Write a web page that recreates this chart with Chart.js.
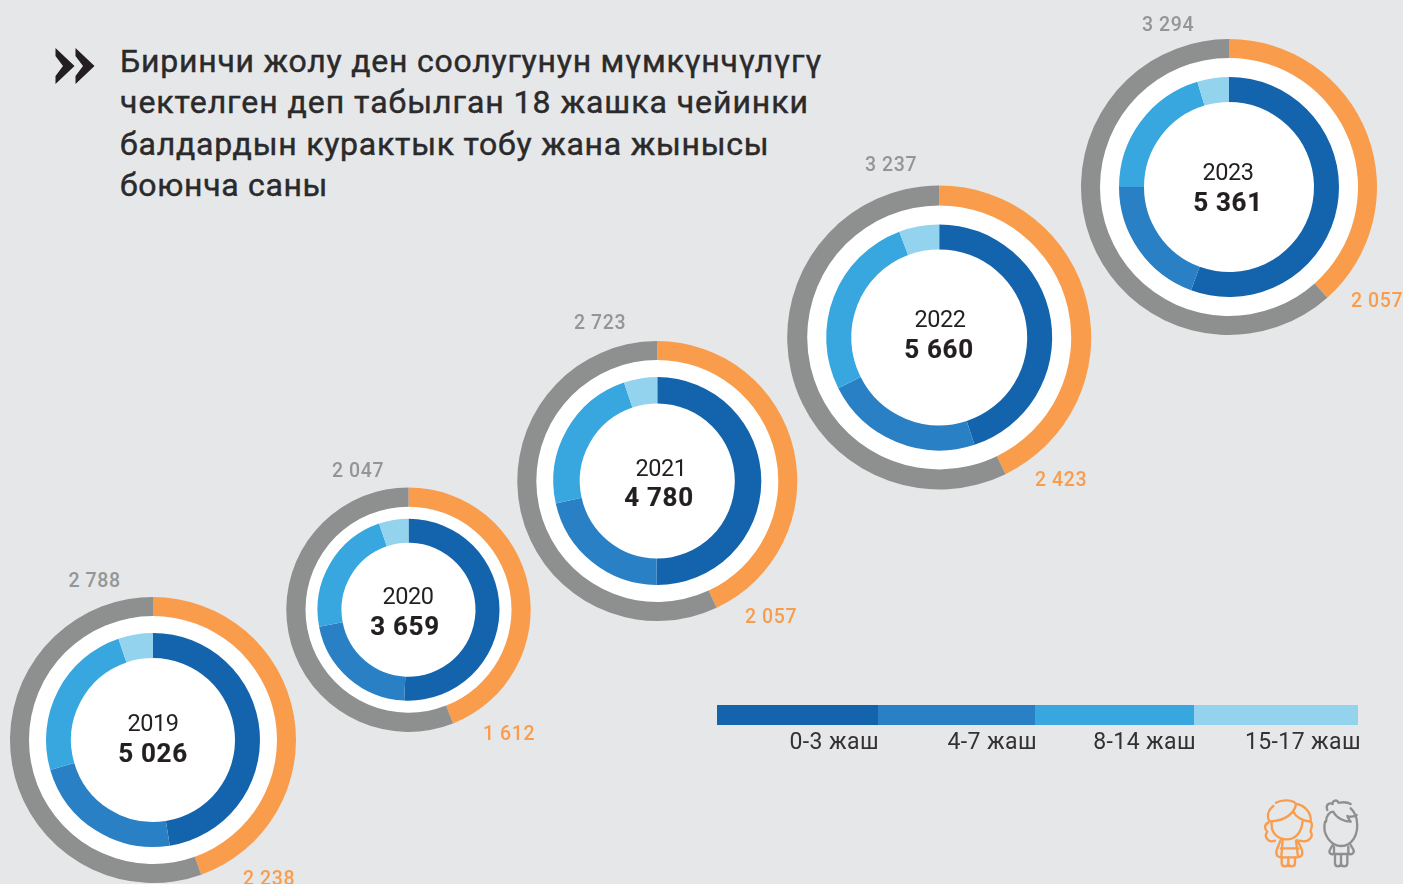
<!DOCTYPE html>
<html>
<head>
<meta charset="utf-8">
<script src="https://cdn.jsdelivr.net/npm/chart.js@4"></script>
<style>
  html, body { margin: 0; padding: 0; background: #e6e7e9; }
  #page { position: relative; width: 1403px; height: 884px; overflow: hidden; background: #e6e7e9; font-family: Roboto, sans-serif; }
  canvas { position: absolute; }
  .t { position: absolute; white-space: nowrap; transform: translate(-50%, -50%); }
  .title { position: absolute; left: 120px; white-space: nowrap; font-size: 32px; font-weight: 400; color: #2b2a2b; transform: translateY(-50%); -webkit-text-stroke: 0.45px #2b2a2b; }
  .count { font-size: 19.5px; font-weight: 500; letter-spacing: 0.6px; }
  .year { font-size: 23.5px; color: #231f20; letter-spacing: -0.4px; }
  .total { font-size: 26px; font-weight: 700; color: #231f20; letter-spacing: 0.7px; -webkit-text-stroke: 0.2px #231f20; }
  .age { position: absolute; top: 741px; transform: translate(-100%, -50%); font-size: 23px; color: #333133; white-space: nowrap; letter-spacing: 0.4px; }
  .bar { position: absolute; top: 705px; height: 20px; }
  svg { position: absolute; }
</style>
</head>
<body>
<div id="page">
  <svg style="left:0;top:0" width="110" height="100" viewBox="0 0 110 100">
    <polygon fill="#231f20" points="55.5,48 74.5,66 55.5,84 55.5,76 63,66 55.5,56"/>
    <polygon fill="#231f20" points="75.5,48 94.5,66 75.5,84 75.5,76 83,66 75.5,56"/>
  </svg>
  <svg style="left:1240px;top:780px" width="140" height="100" viewBox="0 0 420 300" fill="none" stroke-width="7" stroke-linecap="round" stroke-linejoin="round">
    <g stroke="#f99d4d">
      <path d="M108 68 C125 58 160 58 168 72 C165 95 140 124 88 124 C80 108 84 90 100 78"/>
      <path d="M168 72 C195 75 215 100 212 125 M160 95 C170 115 190 122 212 125"/>
      <path d="M95 128 C92 160 115 178 140 178 C165 178 185 160 188 122"/>
      <path d="M85 128 C70 135 75 150 82 155 C70 170 85 190 105 182"/>
      <path d="M212 125 C222 135 210 150 212 155 C222 170 205 190 180 182"/>
      <path d="M122 180 L110 210 C106 228 115 232 125 232 L170 232 C182 232 190 228 186 210 L172 180"/>
      <path d="M128 182 L124 230 M168 182 L174 230 M122 205 L175 205"/>
      <path d="M125 232 V250 C125 262 145 262 145 250 V232 M145 250 C145 262 165 262 165 250 V232"/>
    </g>
    <g stroke="#8e908f">
      <path d="M255 125 C245 165 275 198 303 198 C335 198 358 165 350 118 C347 105 340 92 332 85"/>
      <path d="M300 68 C310 66 322 66 332 72"/>
      <path d="M262 90 C255 72 270 68 278 72 C275 60 295 58 295 68"/>
      <path d="M258 125 C258 105 270 95 280 95 C290 115 315 125 332 125 C325 118 325 112 322 108 C330 112 340 110 350 105"/>
      <path d="M278 195 L272 205 C265 215 268 225 280 222 M332 195 L338 205 C345 215 340 225 328 222"/>
      <path d="M282 200 V222 M325 200 V222 M282 222 H325"/>
      <path d="M285 222 V250 C285 262 303 262 303 250 V225 M303 250 C303 262 322 262 322 250 V222"/>
    </g>
  </svg>
</div>
<script>
// values
const years = ['2019', '2020', '2021', '2022', '2023'];
const totals = [5026, 3659, 4780, 5660, 5361];
const girls = [2238, 1612, 2057, 2423, 2057];
const boys = [2788, 2047, 2723, 3237, 3294];
const age0to3 = [2387, 1857, 2397, 2544, 2981];
const age4to7 = [1156, 778, 1022, 1280, 1039];
const age8to14 = [1220, 832, 1113, 1511, 1092];
const age15to17 = [263, 192, 248, 325, 249];
const ageLabels = ['0-3 жаш', '4-7 жаш', '8-14 жаш', '15-17 жаш'];
const titleLines = [
  'Биринчи жолу ден соолугунун мүмкүнчүлүгү',
  'чектелген деп табылган 18 жашка чейинки',
  'балдардын курактык тобу жана жынысы',
  'боюнча саны',
];

const ageColors = ['#1464ad', '#2980c4', '#38a7df', '#93d3ee'];
const ORANGE = '#f99d4d';
const GRAY = '#8e908f';

// cx, cy, outer radius, white band start, inner ring outer, inner ring hole
const rings = [
  [153, 740, 143, 124, 107, 82],
  [408.5, 609.7, 122.2, 103, 91, 67],
  [657.3, 481, 140, 121, 104, 77.5],
  [939.2, 337.4, 152, 132, 113, 88],
  [1229, 187, 148, 129, 110, 85],
];
const girlPos = [[269, 878], [509, 733], [771, 616], [1061, 479], [1377, 300]];
const boyPos = [[94.5, 580], [358, 470], [600, 322], [891, 164], [1168, 24]];
const yearPos = [[153, 723], [408, 596], [661, 468], [940, 319], [1228, 172]];
const totalPos = [[153, 753], [405, 626], [659, 497], [939, 349], [1228, 202]];
const legendStops = [717, 878, 1035, 1194, 1358];
const legendRight = [879, 1037, 1196, 1361];
const titleSpacing = [0.77, 0.97, 0.76, 0.67];

const page = document.getElementById('page');

function spaced(n) {
  return String(n).replace(/\B(?=(\d{3})+$)/g, ' ');
}

function addText(text, x, y, cls, color) {
  const el = document.createElement('div');
  el.className = 't ' + cls;
  el.textContent = text;
  el.style.left = x + 'px';
  el.style.top = y + 'px';
  if (color) el.style.color = color;
  page.appendChild(el);
}

// white disc behind the rings
const whiteDisc = {
  id: 'whiteDisc',
  beforeDatasetsDraw(chart, args, opts) {
    const meta = chart.getDatasetMeta(0).data[0];
    const { ctx } = chart;
    ctx.save();
    ctx.fillStyle = '#fff';
    ctx.beginPath();
    ctx.arc(meta.x, meta.y, opts.radius, 0, Math.PI * 2);
    ctx.fill();
    ctx.restore();
  },
};

years.forEach((year, i) => {
  const [cx, cy, R, white, innerR, hole] = rings[i];
  const size = 2 * Math.ceil(R) + 6;
  const left = Math.floor(cx - R) - 2;
  const top = Math.floor(cy - R) - 2;
  const canvas = document.createElement('canvas');
  canvas.width = size;
  canvas.height = size;
  canvas.style.left = left + 'px';
  canvas.style.top = top + 'px';
  page.appendChild(canvas);

  new Chart(canvas, {
    type: 'doughnut',
    data: {
      labels: [],
      datasets: [
        { data: [girls[i], boys[i]], backgroundColor: [ORANGE, GRAY], borderWidth: 0, weight: R - white },
        { data: [1], backgroundColor: ['rgba(0,0,0,0)'], borderWidth: 0, weight: white - innerR },
        { data: [age0to3[i], age4to7[i], age8to14[i], age15to17[i]], backgroundColor: ageColors, borderWidth: 0, weight: innerR - hole },
      ],
    },
    options: {
      responsive: false,
      animation: false,
      events: [],
      cutout: hole,
      layout: {
        padding: {
          left: cx - R - left,
          top: cy - R - top,
          right: size - (cx - R - left) - 2 * R,
          bottom: size - (cy - R - top) - 2 * R,
        },
      },
      plugins: { legend: { display: false }, tooltip: { enabled: false }, whiteDisc: { radius: white + 0.5 } },
    },
    plugins: [whiteDisc],
  });

  addText(spaced(girls[i]), girlPos[i][0], girlPos[i][1], 'count', ORANGE);
  addText(spaced(boys[i]), boyPos[i][0], boyPos[i][1], 'count', '#949695');
  addText(year, yearPos[i][0], yearPos[i][1], 'year');
  addText(spaced(totals[i]), totalPos[i][0], totalPos[i][1], 'total');
});

titleLines.forEach((line, i) => {
  const el = document.createElement('div');
  el.className = 'title';
  el.textContent = line;
  el.style.top = (60.5 + i * 41.6) + 'px';
  el.style.letterSpacing = titleSpacing[i] + 'px';
  page.appendChild(el);
});

ageLabels.forEach((label, i) => {
  const bar = document.createElement('div');
  bar.className = 'bar';
  bar.style.left = legendStops[i] + 'px';
  bar.style.width = (legendStops[i + 1] - legendStops[i]) + 'px';
  bar.style.background = ageColors[i];
  page.appendChild(bar);
  const el = document.createElement('div');
  el.className = 'age';
  el.textContent = label;
  el.style.left = legendRight[i] + 'px';
  page.appendChild(el);
});
</script>
</body>
</html>
